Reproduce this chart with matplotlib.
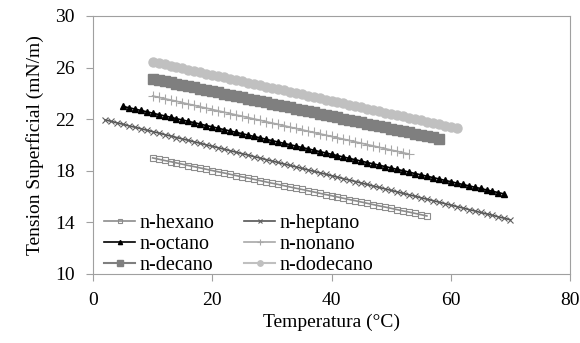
import numpy as np
import matplotlib
matplotlib.use('Agg')
import matplotlib.pyplot as plt

plt.rcParams['font.family'] = ['Liberation Serif', 'DejaVu Serif']

# temperaturas (C) de cada serie
t_hexano = np.arange(10, 57)
t_heptano = np.arange(2, 71)
t_octano = np.arange(5, 70)
t_nonano = np.arange(10, 54)
t_decano = np.arange(10, 59)
t_dodecano = np.arange(10, 62)

# tension superficial (mN/m)
g_hexano = [19.00, 18.90, 18.80, 18.71, 18.61, 18.51, 18.41, 18.32, 18.22, 18.12,
            18.02, 17.92, 17.83, 17.73, 17.63, 17.53, 17.44, 17.34, 17.24, 17.14,
            17.04, 16.95, 16.85, 16.75, 16.65, 16.56, 16.46, 16.36, 16.26, 16.16,
            16.07, 15.97, 15.87, 15.77, 15.68, 15.58, 15.48, 15.38, 15.28, 15.19,
            15.09, 14.99, 14.89, 14.80, 14.70, 14.60, 14.50]
g_heptano = [21.95, 21.84, 21.72, 21.61, 21.49, 21.38, 21.27, 21.15, 21.04, 20.93,
             20.81, 20.70, 20.58, 20.47, 20.36, 20.24, 20.13, 20.01, 19.90, 19.79,
             19.67, 19.56, 19.44, 19.33, 19.22, 19.10, 18.99, 18.87, 18.76, 18.65,
             18.53, 18.42, 18.31, 18.19, 18.08, 17.96, 17.85, 17.74, 17.62, 17.51,
             17.39, 17.28, 17.17, 17.05, 16.94, 16.82, 16.71, 16.60, 16.48, 16.37,
             16.25, 16.14, 16.03, 15.91, 15.80, 15.69, 15.57, 15.46, 15.34, 15.23,
             15.12, 15.00, 14.89, 14.77, 14.66, 14.55, 14.43, 14.32, 14.20]
g_octano = [23.00, 22.89, 22.79, 22.68, 22.58, 22.47, 22.36, 22.26, 22.15, 22.04,
            21.94, 21.83, 21.73, 21.62, 21.51, 21.41, 21.30, 21.19, 21.09, 20.98,
            20.88, 20.77, 20.66, 20.56, 20.45, 20.34, 20.24, 20.13, 20.03, 19.92,
            19.81, 19.71, 19.60, 19.49, 19.39, 19.28, 19.18, 19.07, 18.96, 18.86,
            18.75, 18.64, 18.54, 18.43, 18.33, 18.22, 18.11, 18.01, 17.90, 17.79,
            17.69, 17.58, 17.48, 17.37, 17.26, 17.16, 17.05, 16.94, 16.84, 16.73,
            16.63, 16.52, 16.41, 16.31, 16.20]
g_nonano = [23.80, 23.70, 23.59, 23.49, 23.39, 23.28, 23.17, 23.07, 22.96, 22.86,
            22.75, 22.65, 22.54, 22.44, 22.33, 22.23, 22.13, 22.02, 21.92, 21.81,
            21.71, 21.60, 21.50, 21.39, 21.29, 21.18, 21.08, 20.97, 20.87, 20.77,
            20.66, 20.56, 20.45, 20.35, 20.24, 20.14, 20.03, 19.93, 19.82, 19.72,
            19.61, 19.51, 19.40, 19.30]
g_decano = [25.15, 25.05, 24.96, 24.86, 24.76, 24.67, 24.57, 24.47, 24.37, 24.28,
            24.18, 24.08, 23.99, 23.89, 23.79, 23.70, 23.60, 23.50, 23.41, 23.31,
            23.21, 23.12, 23.02, 22.92, 22.82, 22.73, 22.63, 22.53, 22.44, 22.34,
            22.24, 22.15, 22.05, 21.95, 21.86, 21.76, 21.66, 21.57, 21.47, 21.37,
            21.27, 21.18, 21.08, 20.98, 20.89, 20.79, 20.69, 20.60, 20.50]
g_dodecano = [26.45, 26.35, 26.25, 26.15, 26.05, 25.95, 25.84, 25.74, 25.64, 25.54,
              25.44, 25.34, 25.24, 25.14, 25.04, 24.94, 24.83, 24.73, 24.63, 24.53,
              24.43, 24.33, 24.23, 24.13, 24.03, 23.93, 23.82, 23.72, 23.62, 23.52,
              23.42, 23.32, 23.22, 23.12, 23.02, 22.92, 22.81, 22.71, 22.61, 22.51,
              22.41, 22.31, 22.21, 22.11, 22.01, 21.91, 21.80, 21.70, 21.60, 21.50,
              21.40, 21.30]

fig = plt.figure(figsize=(5.8, 3.43), dpi=100)
ax = fig.add_axes([93/580, 1-274/343, (570-93)/580, (274-16)/343])

h_hex, = ax.plot(t_hexano, g_hexano, color='#8c8c8c', lw=1.2, marker='s', ms=4.5,
                 mfc='none', mec='#8c8c8c', mew=0.8, label='n-hexano')
h_hep, = ax.plot(t_heptano, g_heptano, color='#555555', lw=1.2, marker='x', ms=5,
                 mec='#606060', mew=0.8, label='n-heptano')
h_oct, = ax.plot(t_octano, g_octano, color='black', lw=1.2, marker='^', ms=5,
                 mfc='black', mec='black', label='n-octano')
h_non, = ax.plot(t_nonano, g_nonano, color='#a8a8a8', lw=1.2, marker='+', ms=7.5,
                 mec='#a8a8a8', mew=0.8, label='n-nonano')
h_dec, = ax.plot(t_decano, g_decano, color='#7f7f7f', lw=1.5, marker='s', ms=6.5,
                 mfc='#7f7f7f', mec='#7f7f7f', label='n-decano')
h_dod, = ax.plot(t_dodecano, g_dodecano, color='#c0c0c0', lw=1.5, marker='o', ms=6.5,
                 mfc='#c0c0c0', mec='#c0c0c0', label='n-dodecano')

ax.set_xlim(0, 80)
ax.set_ylim(10, 30)
ax.set_xticks([0, 20, 40, 60, 80])
ax.set_yticks([10, 14, 18, 22, 26, 30])
ax.tick_params(direction='out', length=5, color='#a0a0a0', labelsize=14)
ax.tick_params(axis='x', pad=8)
ax.tick_params(axis='y', pad=8)
for s in ax.spines.values():
    s.set_color('#a0a0a0')

ax.set_xlabel('Temperatura (°C)', fontsize=14, labelpad=3)
ax.set_ylabel('Tension Superficial (mN/m)', fontsize=14, labelpad=8)

# column-first fill -> order so rows read hexano/heptano, octano/nonano, decano/dodecano
handles = [h_hex, h_oct, h_dec, h_hep, h_non, h_dod]
ax.legend(handles=handles, labels=[h.get_label() for h in handles],
          loc='lower left', bbox_to_anchor=(0.006, -0.035), ncol=2, frameon=False,
          fontsize=14.5, handlelength=1.55, handletextpad=0.2, columnspacing=1.5,
          labelspacing=0.1, borderaxespad=0.0, markerscale=0.6)

fig.savefig('out.png', dpi=100)
